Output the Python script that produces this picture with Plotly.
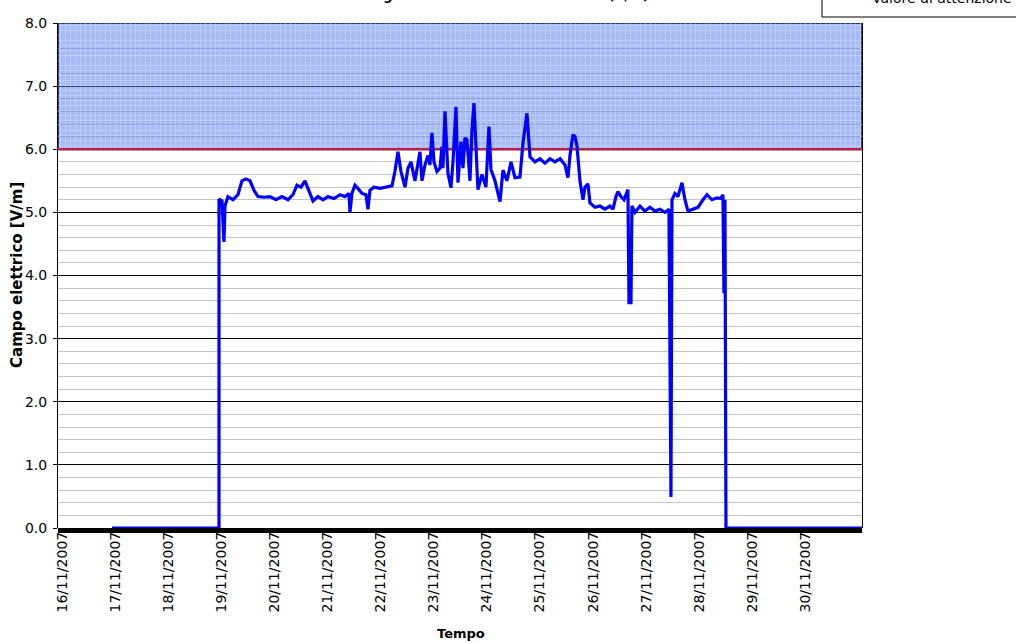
import plotly.graph_objects as go

# ---------------- data ----------------
times = [
    "2007-11-16 22:36", "2007-11-18 22:58", "2007-11-18 22:59", "2007-11-19 00:19",
    "2007-11-19 01:13", "2007-11-19 01:41", "2007-11-19 03:01", "2007-11-19 05:17",
    "2007-11-19 07:33", "2007-11-19 09:21", "2007-11-19 11:10", "2007-11-19 12:58",
    "2007-11-19 14:47", "2007-11-19 16:35", "2007-11-19 19:18", "2007-11-19 22:00",
    "2007-11-20 00:43", "2007-11-20 03:26", "2007-11-20 06:09", "2007-11-20 08:24",
    "2007-11-20 10:13", "2007-11-20 12:01", "2007-11-20 13:50", "2007-11-20 15:38",
    "2007-11-20 17:27", "2007-11-20 19:42", "2007-11-20 21:58", "2007-11-21 00:13",
    "2007-11-21 02:56", "2007-11-21 05:38", "2007-11-21 07:55", "2007-11-21 09:43",
    "2007-11-21 10:10", "2007-11-21 11:04", "2007-11-21 12:25", "2007-11-21 13:47",
    "2007-11-21 15:36", "2007-11-21 17:24", "2007-11-21 18:18", "2007-11-21 19:12",
    "2007-11-21 21:01", "2007-11-21 23:44", "2007-11-22 02:27", "2007-11-22 05:10",
    "2007-11-22 06:30", "2007-11-22 07:52", "2007-11-22 09:13", "2007-11-22 11:02",
    "2007-11-22 12:23", "2007-11-22 13:45", "2007-11-22 15:33", "2007-11-22 16:54",
    "2007-11-22 17:48", "2007-11-22 18:43", "2007-11-22 20:04", "2007-11-22 21:26",
    "2007-11-22 22:19", "2007-11-22 23:14", "2007-11-23 00:08", "2007-11-23 01:29",
    "2007-11-23 02:51", "2007-11-23 03:45", "2007-11-23 04:12", "2007-11-23 05:07",
    "2007-11-23 06:27", "2007-11-23 07:49", "2007-11-23 08:43", "2007-11-23 10:05",
    "2007-11-23 10:59", "2007-11-23 12:20", "2007-11-23 13:15", "2007-11-23 14:08",
    "2007-11-23 15:03", "2007-11-23 16:25", "2007-11-23 17:18", "2007-11-23 18:13",
    "2007-11-23 19:08", "2007-11-23 20:01", "2007-11-23 21:50", "2007-11-23 23:38",
    "2007-11-24 00:59", "2007-11-24 01:54", "2007-11-24 03:42", "2007-11-24 05:59",
    "2007-11-24 07:19", "2007-11-24 09:07", "2007-11-24 10:57", "2007-11-24 12:45",
    "2007-11-24 15:00", "2007-11-24 16:22", "2007-11-24 18:10", "2007-11-24 19:32",
    "2007-11-24 21:48", "2007-11-25 00:03", "2007-11-25 02:18", "2007-11-25 04:34",
    "2007-11-25 06:49", "2007-11-25 09:06", "2007-11-25 11:21", "2007-11-25 12:42",
    "2007-11-25 13:36", "2007-11-25 14:57", "2007-11-25 15:52", "2007-11-25 16:47",
    "2007-11-25 18:07", "2007-11-25 19:29", "2007-11-25 20:23", "2007-11-25 21:45",
    "2007-11-25 22:39", "2007-11-26 00:55", "2007-11-26 03:10", "2007-11-26 05:25",
    "2007-11-26 07:41", "2007-11-26 09:03", "2007-11-26 10:24", "2007-11-26 11:18",
    "2007-11-26 12:39", "2007-11-26 14:01", "2007-11-26 15:49", "2007-11-26 16:16",
    "2007-11-26 17:11", "2007-11-26 17:37", "2007-11-26 18:59", "2007-11-26 21:14",
    "2007-11-26 23:30", "2007-11-27 01:45", "2007-11-27 04:02", "2007-11-27 06:17",
    "2007-11-27 08:33", "2007-11-27 10:21", "2007-11-27 11:15", "2007-11-27 11:43",
    "2007-11-27 13:03", "2007-11-27 14:25", "2007-11-27 16:13", "2007-11-27 17:35",
    "2007-11-27 18:56", "2007-11-27 21:12", "2007-11-27 23:27", "2007-11-28 01:44",
    "2007-11-28 03:32", "2007-11-28 05:47", "2007-11-28 08:02", "2007-11-28 09:50",
    "2007-11-28 10:45", "2007-11-28 11:12", "2007-11-28 11:40", "2007-11-28 12:07",
    "2007-12-01 01:35",
]
field_values = [
    0.00, 0.00, 5.21, 5.18,
    4.53, 5.10, 5.25, 5.20,
    5.28, 5.50, 5.53, 5.50,
    5.35, 5.25, 5.24, 5.25,
    5.20, 5.25, 5.20, 5.28,
    5.43, 5.40, 5.50, 5.35,
    5.18, 5.25, 5.20, 5.25,
    5.22, 5.28, 5.25, 5.30,
    5.00, 5.30, 5.43, 5.38,
    5.30, 5.28, 5.05, 5.35,
    5.40, 5.38, 5.40, 5.42,
    5.65, 5.96, 5.65, 5.40,
    5.70, 5.80, 5.50, 5.75,
    5.96, 5.50, 5.75, 5.90,
    5.75, 6.26, 5.80, 5.65,
    5.70, 6.04, 5.70, 6.60,
    5.62, 5.39, 5.80, 6.67,
    5.47, 6.12, 5.70, 6.18,
    6.15, 5.50, 6.30, 6.73,
    5.88, 5.36, 5.60, 5.40,
    6.36, 5.68, 5.50, 5.17,
    5.67, 5.50, 5.80, 5.55,
    5.56, 6.10, 6.57, 5.88,
    5.80, 5.85, 5.78, 5.85,
    5.80, 5.85, 5.75, 5.55,
    5.90, 6.23, 6.20, 6.05,
    5.50, 5.20, 5.40, 5.45,
    5.15, 5.08, 5.10, 5.05,
    5.10, 5.05, 5.25, 5.33,
    5.25, 5.20, 5.36, 3.57,
    3.57, 5.10, 5.00, 5.10,
    5.02, 5.08, 5.02, 5.05,
    5.00, 5.05, 0.49, 5.20,
    5.30, 5.25, 5.47, 5.20,
    5.02, 5.05, 5.08, 5.20,
    5.28, 5.20, 5.23, 5.22,
    5.28, 3.72, 5.20, 0.00,
    0.00,
]

threshold = 6.0          # "Valore di attenzione"
band_top = 8.0
x_start = "2007-11-15 22:12"
x_end = "2007-12-01 01:36"

tick_dates = ["2007-11-%02d" % d for d in range(16, 31)]
tick_labels = ["%02d/11/2007" % d for d in range(16, 31)]

y_range = [0, 8]
title_text = "Andamento del segnale rilevato dalla centralina (V/m)"
legend_text = "Valore di attenzione"
y_title = "Campo elettrico [V/m]"
x_title = "Tempo"

# ---------------- figure ----------------
W, H = 1016, 643
ML, MR, MT, MB = 58, 154, 23, 115
PW, PH = W - ML - MR, H - MT - MB


def px(xp):
    return (xp - ML) / PW


def py(yp):
    return (H - MB - yp) / PH


fig = go.Figure()

# attention band (6 - 8 V/m), patterned fill
fig.add_trace(go.Scatter(
    x=[x_start, x_end, x_end, x_start, x_start],
    y=[threshold, threshold, band_top, band_top, threshold],
    mode="lines", line=dict(width=0), fill="toself",
    fillcolor="rgba(80,120,240,0.5)",
    fillpattern=dict(shape="+", bgcolor="rgba(80,120,240,0.5)",
                     fgcolor="rgba(255,255,255,0.6)", size=5, solidity=0.3),
    hoverinfo="skip", showlegend=False,
))

# threshold line
fig.add_trace(go.Scatter(
    x=[x_start, x_end], y=[threshold, threshold], mode="lines",
    line=dict(color="#d0103a", width=2), showlegend=False, name=legend_text,
))

# measured field
fig.add_trace(go.Scatter(
    x=times, y=field_values, mode="lines",
    line=dict(color="#0000ff", width=3.2), showlegend=False,
    name="Campo elettrico",
))

FONT = "DejaVu Sans, Liberation Sans, Arial, sans-serif"

fig.update_layout(
    width=W, height=H,
    margin=dict(l=ML, r=MR, t=MT, b=MB, pad=0, autoexpand=False),
    paper_bgcolor="white", plot_bgcolor="white",
    font=dict(family=FONT, color="black", size=13),
    showlegend=False,
    shapes=[
        # band border
        dict(type="rect", xref="paper", yref="y", x0=0, x1=1,
             y0=threshold, y1=band_top, line=dict(color="black", width=2),
             fillcolor="rgba(0,0,0,0)", layer="below"),
        # thick bottom axis bar
        dict(type="rect", xref="paper", yref="paper", x0=0, x1=1,
             y0=py(533), y1=py(528), line=dict(width=0),
             fillcolor="black", layer="above"),
        # legend box (partly outside the page)
        dict(type="rect", xref="paper", yref="paper", x0=px(822), x1=px(1030),
             y0=py(17), y1=py(-30), line=dict(color="black", width=1),
             fillcolor="rgba(0,0,0,0)", layer="above"),
    ],
    annotations=[
        dict(text=title_text, xref="paper", yref="paper", x=px(450), y=py(5.5),
             xanchor="center", yanchor="bottom", showarrow=False,
             font=dict(size=13, family=FONT, color="black", weight="bold")),
        dict(text=legend_text, xref="paper", yref="paper", x=px(1014), y=py(8),
             xanchor="right", yanchor="bottom", showarrow=False,
             font=dict(size=14, family=FONT, color="black")),
        dict(text=x_title, xref="paper", yref="paper", x=px(461), y=py(643),
             xanchor="center", yanchor="bottom", showarrow=False,
             font=dict(size=13, family=FONT, color="black", weight="bold")),
        dict(text=y_title, xref="paper", yref="paper", x=px(17), y=py(275),
             xanchor="center", yanchor="middle", textangle=-90, showarrow=False,
             font=dict(size=15, family=FONT, color="black", weight="bold")),
    ],
)

fig.update_xaxes(
    type="date", range=[x_start, x_end],
    tickmode="array", tickvals=tick_dates, ticktext=tick_labels,
    tickangle=-90, tickfont=dict(size=14, family=FONT),
    ticks="", showgrid=False, showline=False, zeroline=False,
    fixedrange=True, automargin=False,
)

fig.update_yaxes(
    range=y_range, dtick=1, tickformat=".1f",
    tickfont=dict(size=14, family=FONT),
    ticks="outside", ticklen=4, tickcolor="black", tickwidth=1,
    ticklabelstandoff=3,
    showline=True, linecolor="black", linewidth=1, mirror=True,
    showgrid=True, gridcolor="black", gridwidth=1, zeroline=False,
    minor=dict(dtick=0.2, showgrid=True, gridcolor="#c4c4c4", gridwidth=1,
               ticks=""),
    fixedrange=True, automargin=False,
)

fig.write_html("out.html", config={"displayModeBar": False},
               post_script="document.body.style.margin='0';")
